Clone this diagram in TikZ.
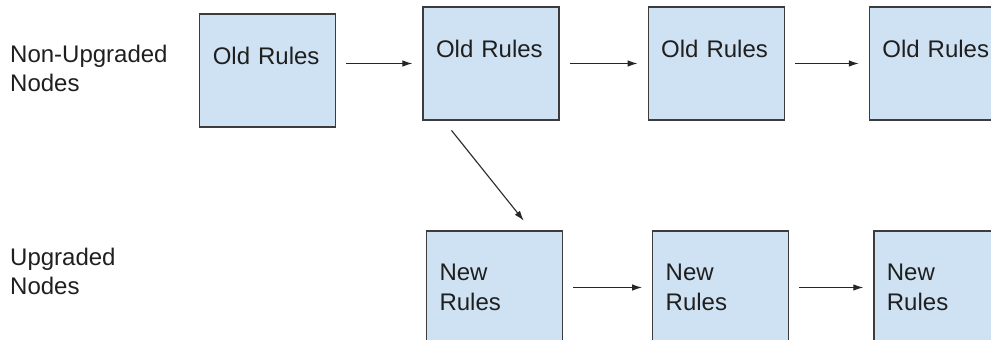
\documentclass[tikz,border=0pt]{standalone}
\usepackage{fontspec}
\setmainfont{Liberation Sans}
\usetikzlibrary{calc, positioning, arrows.meta}

\definecolor{rulefill}{HTML}{CFE2F3}
\definecolor{ruledraw}{HTML}{3C3C3C}
\definecolor{textgray}{HTML}{1F1F1F}

\begin{document}
\begin{tikzpicture}[
        x=1pt, y=-1pt,
        font=\fontsize{24}{29.5}\selectfont,
        >={Latex[length=10pt,width=6.5pt]},
        rules/.style={
            draw=ruledraw,
            fill=rulefill,
            line width=1.2pt,
            text=textgray,
            text width=110pt,
            align=left,
            inner xsep=13pt,
            inner ysep=0pt,
            minimum width=136pt,
            minimum height=113pt
        },
        lane/.style={
            text=textgray,
            align=left,
            inner sep=0pt,
            anchor=west
        },
        link/.style={
            ->,
            draw=black!85,
            line width=1.1pt,
            shorten <=10pt,
            shorten >=10pt
        }
    ]
    \useasboundingbox (0,0) rectangle (991,340);
    \clip (0,0) rectangle (991,340);

    % --- LANE LABELS ---
    \node[lane] (oldlane) at (10,68.5) {Non-Upgraded\\Nodes};
    \node[lane] (newlane) at (10,271.5) {Upgraded\\Nodes};

    % --- NON-UPGRADED ROW ---
    \node[rules] (old2) at (491,63.5) {Old Rules\\~};
    \node[rules, left=86pt of old2, yshift=-7pt] (old1) {Old Rules\\~};
    \node[rules, right=88pt of old2] (old3) {Old Rules\\~};
    \node[rules, right=84pt of old3] (old4) {Old Rules\\~};

    % --- UPGRADED ROW ---
    \node[rules] (new1) at (494.5,287.5) {New\\Rules};
    \node[rules, right=89pt of new1] (new2) {New\\Rules};
    \node[rules, right=84pt of new2] (new3) {New\\Rules};

    % --- ARROWS ---
    \draw[link] (old1.east |- old2.west) -- (old2.west);
    \draw[link] (old2) -- (old3);
    \draw[link] (old3) -- (old4);
    \draw[link, shorten <=12.5pt, shorten >=12.5pt]
        ($(old2.south west)!0.155!(old2.south east)$) --
        ($(new1.north west)!0.77!(new1.north east)$);
    \draw[link] (new1) -- (new2);
    \draw[link] (new2) -- (new3);

\end{tikzpicture}
\end{document}
